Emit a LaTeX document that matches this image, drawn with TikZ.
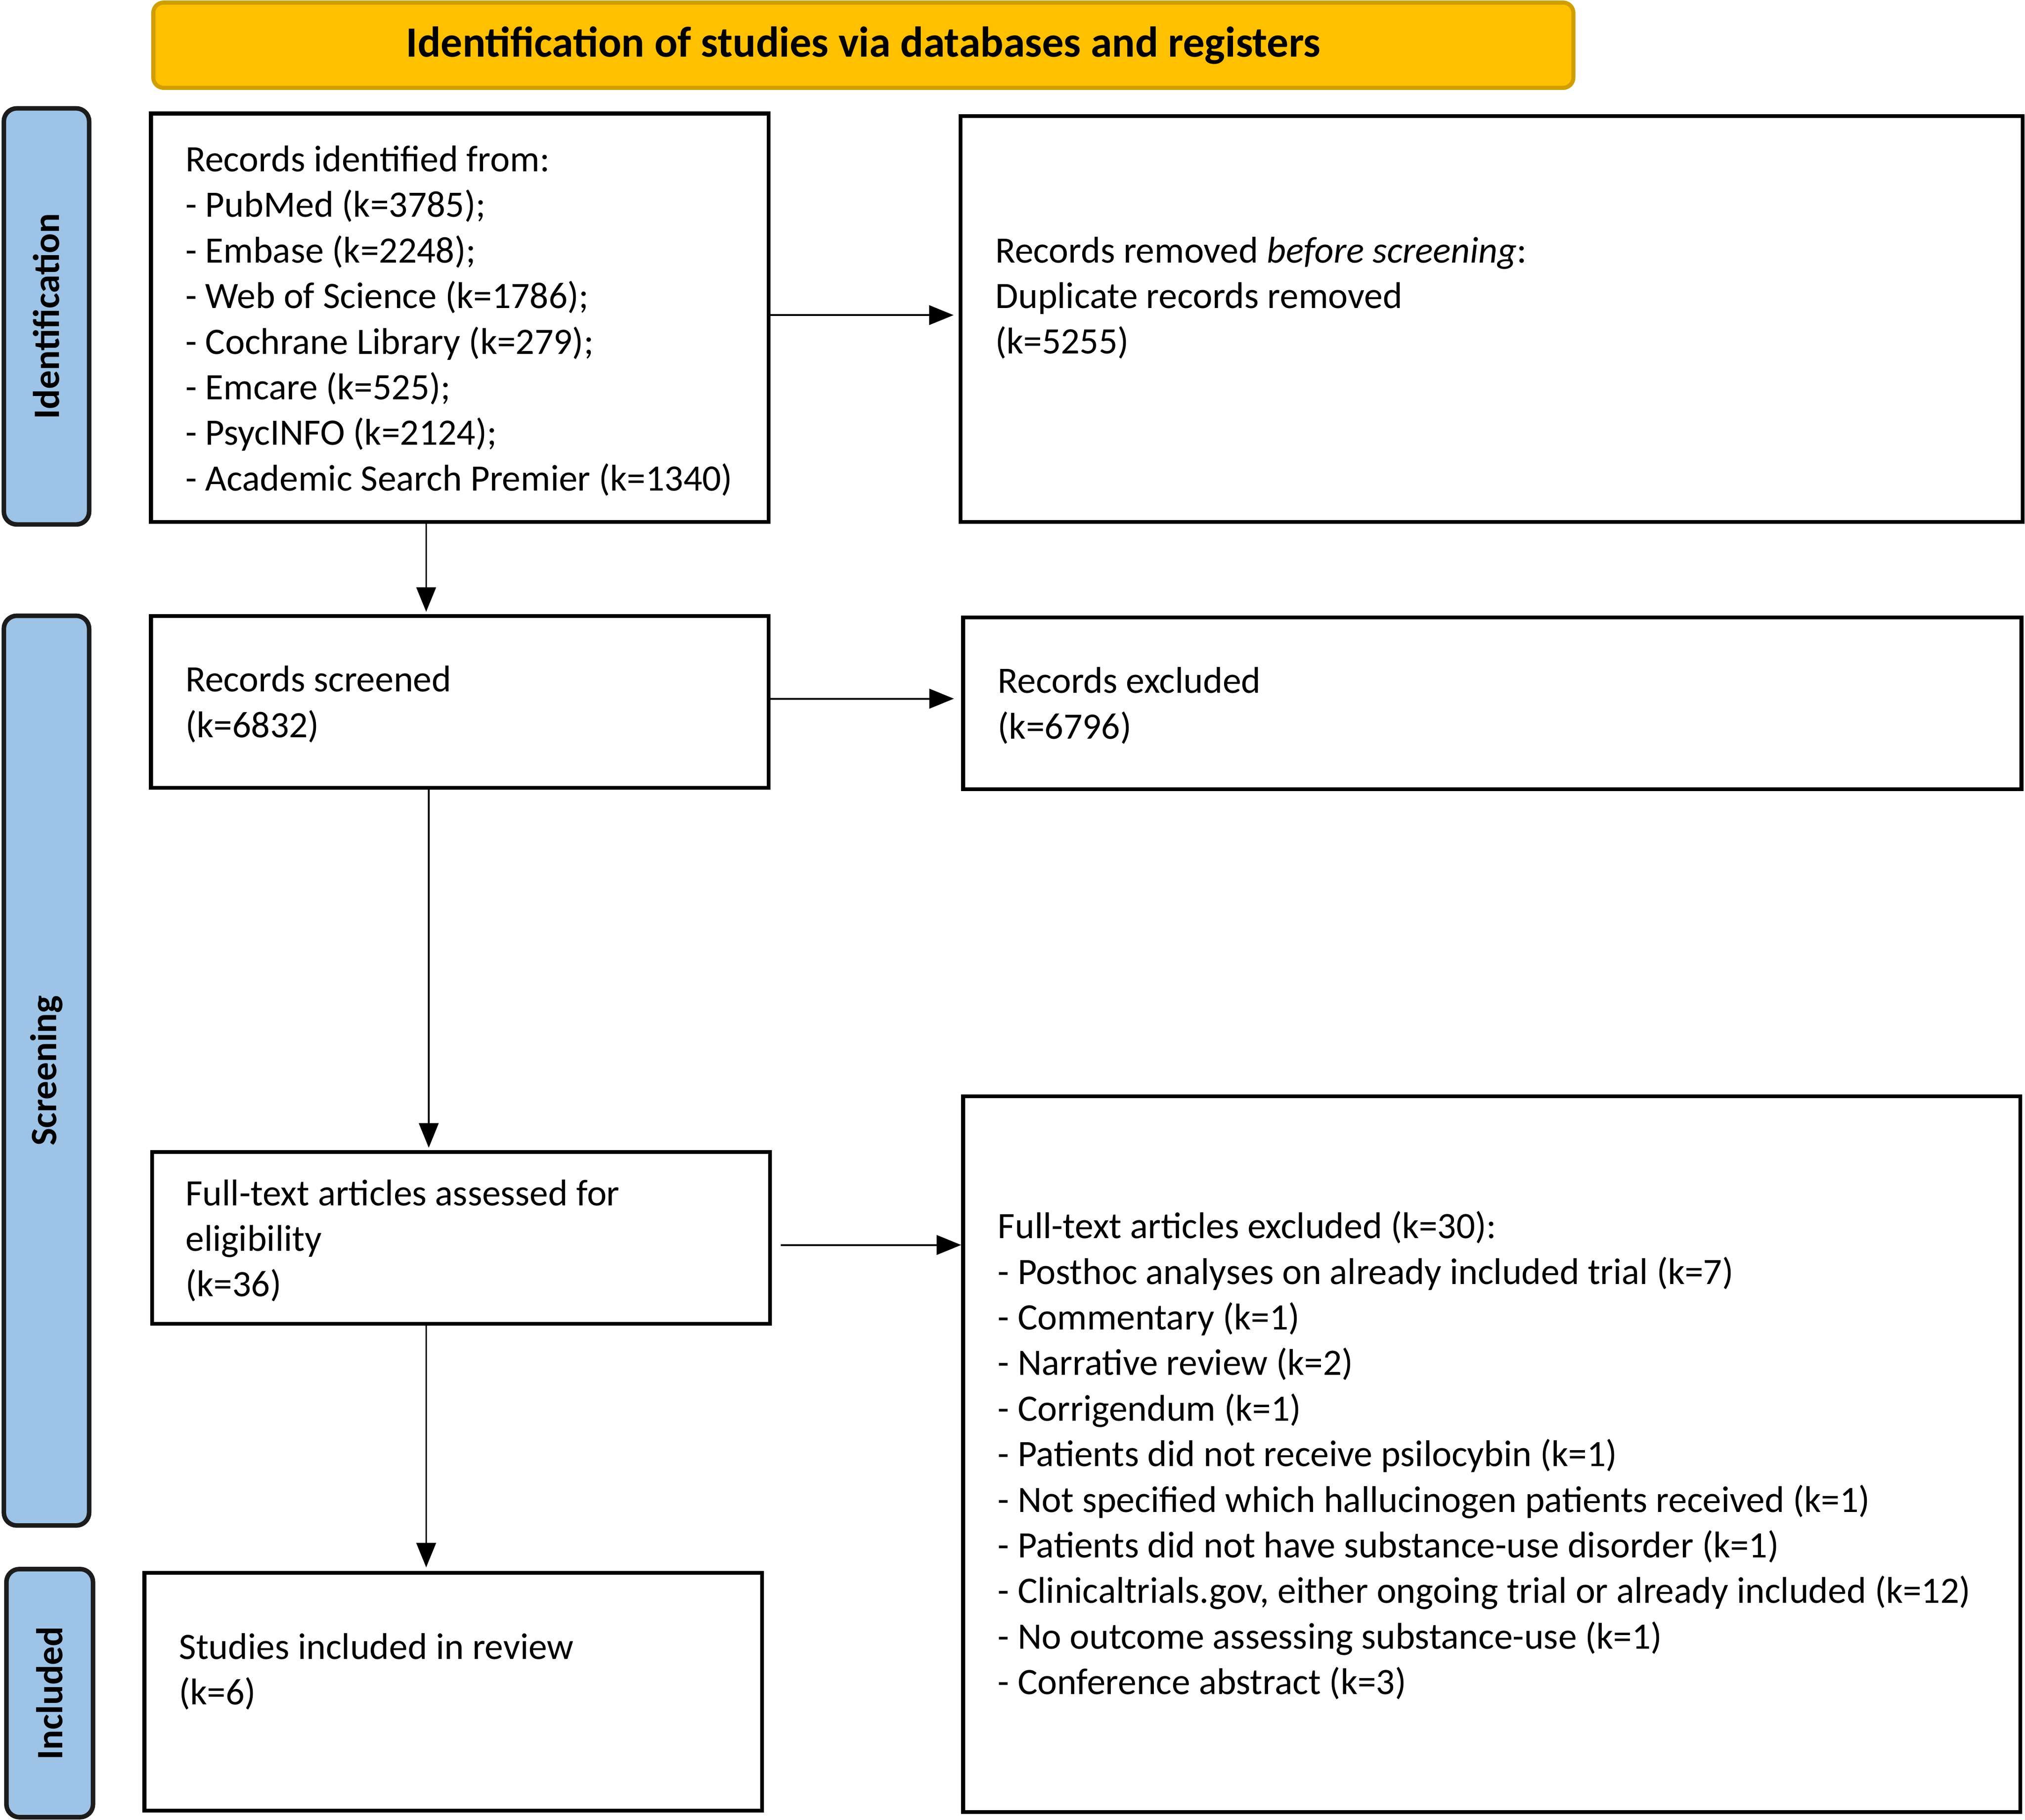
\documentclass[tikz,border=0pt]{standalone}
\usepackage{fontspec}
\setmainfont{Carlito}
\usetikzlibrary{arrows.meta}
\definecolor{bannerfill}{HTML}{FFC000}
\definecolor{bannerline}{HTML}{D09E00}
\definecolor{sidefill}{HTML}{9DC3E6}
\definecolor{sideline}{HTML}{1C1C1C}
\begin{document}
\begin{tikzpicture}[x=0.01cm, y=-0.01cm,
  flowbox/.style={draw=black, line width=0.85pt, fill=white, inner sep=0pt},
  sidebox/.style={draw=sideline, line width=1pt, fill=sidefill, rounded corners=0.1cm, rotate=90,
    font=\fontsize{8.2}{10}\selectfont\bfseries, inner sep=0pt},
  bodytext/.style={font=\fontsize{8.2}{10.04}\selectfont, align=left, anchor=base west, inner sep=0pt},
  arr/.style={-{Triangle[length=5.4pt,width=4.3pt]}, line width=0.4pt},
]
\useasboundingbox (0,0) rectangle (1568,1409);

% banner
\node[draw=bannerline, line width=0.9pt, fill=bannerfill, rounded corners=0.08cm,
  minimum width=10.99cm, minimum height=0.66cm, inner sep=0pt,
  font=\fontsize{9.5}{11}\selectfont\bfseries] (banner) at (668.5,35)
  {Identification of studies via databases and registers};

% side labels
\node[sidebox, minimum width=3.22cm, minimum height=0.66cm] (s1) at (36,245) {Identification};
\node[sidebox, minimum width=7.04cm, minimum height=0.66cm] (s2) at (36,829) {Screening};
\node[sidebox, minimum width=1.92cm, minimum height=0.67cm] (s3) at (38.5,1311) {Included};

% boxes
\node[flowbox, minimum width=4.78cm, minimum height=3.16cm] (b1) at (356,246) {};
\node[flowbox, minimum width=8.22cm, minimum height=3.14cm] (b2) at (1155,247) {};
\node[flowbox, minimum width=4.78cm, minimum height=1.33cm] (b3) at (356,543.5) {};
\node[flowbox, minimum width=8.19cm, minimum height=1.33cm] (b4) at (1155.5,544.5) {};
\node[flowbox, minimum width=4.78cm, minimum height=1.33cm] (b5) at (357,958.5) {};
\node[flowbox, minimum width=8.18cm, minimum height=5.54cm] (b6) at (1155,1126) {};
\node[flowbox, minimum width=4.78cm, minimum height=1.84cm] (b7) at (351,1310) {};

% texts (anchored at the baseline of the last line)
\node[bodytext] (t1) at (143,380) {Records identified from:\\
- PubMed (k=3785);\\
- Embase (k=2248);\\
- Web of Science (k=1786);\\
- Cochrane Library (k=279);\\
- Emcare (k=525);\\
- PsycINFO (k=2124);\\
- Academic Search Premier (k=1340)};
\node[bodytext] (t2) at (770,274) {Records removed \textit{before screening}:\\
Duplicate records removed\\
(k=5255)};
\node[bodytext] (t3) at (143,571) {Records screened\\(k=6832)};
\node[bodytext] (t4) at (772,572) {Records excluded\\(k=6796)};
\node[bodytext] (t5) at (143,1004) {Full-text articles assessed for\\eligibility\\(k=36)};
\node[bodytext] (t6) at (772,1312) {Full-text articles excluded (k=30):\\
- Posthoc analyses on already included trial (k=7)\\
- Commentary (k=1)\\
- Narrative review (k=2)\\
- Corrigendum (k=1)\\
- Patients did not receive psilocybin (k=1)\\
- Not specified which hallucinogen patients received (k=1)\\
- Patients did not have substance-use disorder (k=1)\\
- Clinicaltrials.gov, either ongoing trial or already included (k=12)\\
- No outcome assessing substance-use (k=1)\\
- Conference abstract (k=3)};
\node[bodytext] (t7) at (138,1320) {Studies included in review\\(k=6)};

% connectors
\coordinate (h1) at (0,244);
\coordinate (h2) at (0,541);
\coordinate (h3) at (0,964);
\coordinate (v1) at (330,0);
\coordinate (v2) at (332,0);
\draw[arr, shorten >=1.1pt] (b1.east |- h1) -- (b2.west |- h1);
\draw[arr, shorten >=0.5pt] (b1.south -| v1) -- (b3.north -| v1);
\draw[arr, shorten >=1.6pt] (b3.east |- h2) -- (b4.west |- h2);
\draw[arr, shorten >=0.5pt] (b3.south -| v2) -- (b5.north -| v2);
\draw[arr, shorten <=2pt] (b5.east |- h3) -- (b6.west |- h3);
\draw[arr, shorten >=0.8pt] (b5.south -| v1) -- (b7.north -| v1);
\end{tikzpicture}
\end{document}
